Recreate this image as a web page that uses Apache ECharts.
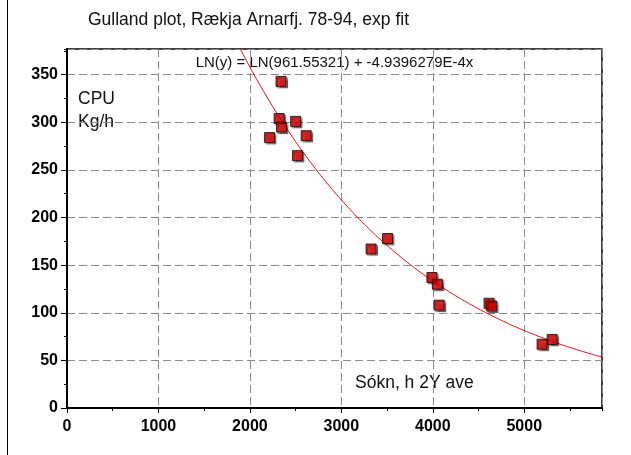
<!DOCTYPE html>
<html>
<head>
<meta charset="utf-8">
<script src="https://cdn.jsdelivr.net/npm/echarts@6/dist/echarts.min.js"></script>
<style>
html,body{margin:0;padding:0;background:#fff;}
#chart{width:631px;height:455px;}
</style>
</head>
<body>
<div id="chart"></div>
<script>
// Observed points (effort, CPU)
var effortX = [2340, 2320, 2345, 2500, 2215, 2615, 2520, 3325, 3505, 3990, 4050, 4070, 4615, 4645, 5195, 5305];
var cpuY    = [343, 304, 295, 301, 284, 286, 265, 167, 178, 137, 130, 108, 110, 107, 67, 72];
// Fit parameters as printed on the chart
var fitA = 961.55321;
var fitB = -4.9396279E-4;
var fitStart = 1850, fitEnd = 5850, fitStep = 25;
var xTicks = [0, 1000, 2000, 3000, 4000, 5000];
var yTicks = [0, 50, 100, 150, 200, 250, 300, 350];

var titleText = 'Gulland plot, Rækja Arnarfj. 78-94, exp fit';
var eqText = 'LN(y) = LN(961.55321) + -4.9396279E-4x';

var scatterData = effortX.map(function(x, i){ return [x, cpuY[i]]; });
var fitData = [];
for (var x = fitStart; x <= fitEnd; x += fitStep) {
  fitData.push([x, fitA * Math.exp(fitB * x)]);
}

var labFont = "'Liberation Sans',Arial,sans-serif";
var txtFont = "'Liberation Sans',Arial,sans-serif";
var gridLine = {show:true, lineStyle:{color:'#8a8a8a', type:[8,4], width:1}};

var chart = echarts.init(document.getElementById('chart'), null, {renderer:'canvas'});
chart.setOption({
  animation:false,
  backgroundColor:'#fff',
  grid:{left:67, right:29, top:49, bottom:47, show:true, borderColor:'#000', borderWidth:1.5, backgroundColor:'transparent'},
  xAxis:[{
    type:'value', min:0, max:5850, interval:1000,
    axisLine:{show:true, onZero:false, lineStyle:{color:'#000', width:2}},
    axisTick:{show:true, length:5, lineStyle:{color:'#000', width:1}},
    axisLabel:{show:true, margin:11, color:'#000', fontFamily:labFont, fontWeight:900, fontSize:16,
      showMaxLabel:false, formatter:function(v){ return xTicks.indexOf(v) >= 0 ? String(v) : ''; }},
    splitLine:gridLine
  },{
    type:'value', min:0, max:5850, interval:500, position:'bottom',
    axisLine:{show:false},
    axisTick:{show:true, length:3, lineStyle:{color:'#000', width:1}},
    axisLabel:{show:false}, splitLine:{show:false}
  }],
  yAxis:[{
    type:'value', min:0, max:377, interval:50,
    axisLine:{show:true, onZero:false, lineStyle:{color:'#000', width:2}},
    axisTick:{show:true, length:6, lineStyle:{color:'#000', width:1}},
    axisLabel:{show:true, margin:9, color:'#000', fontFamily:labFont, fontWeight:900, fontSize:16,
      showMaxLabel:false, formatter:function(v){ return yTicks.indexOf(v) >= 0 ? String(v) : ''; }},
    splitLine:gridLine
  },{
    type:'value', min:0, max:377, interval:25, position:'left',
    axisLine:{show:false},
    axisTick:{show:true, length:3, lineStyle:{color:'#000', width:1}},
    axisLabel:{show:false}, splitLine:{show:false}
  }],
  series:[{
    type:'line', data:fitData, showSymbol:false, symbol:'none', clip:true,
    lineStyle:{color:'#e01010', width:1}, z:2
  },{
    type:'scatter', data:scatterData, symbol:'rect', symbolSize:10,
    itemStyle:{color:'#dd0000', borderColor:'#1a0000', borderWidth:1,
      shadowColor:'rgba(0,0,0,0.55)', shadowOffsetX:1.5, shadowOffsetY:1.5, shadowBlur:1},
    z:3
  }],
  graphic:[
    {type:'line', shape:{x1:7.5, y1:0, x2:7.5, y2:455}, style:{stroke:'#000', lineWidth:1}},
    {type:'text', x:88, y:20, style:{text:titleText, font:'17.5px '+txtFont, fill:'#111', textVerticalAlign:'middle'}},
    {type:'text', x:334.5, y:63, style:{text:eqText, font:'15px '+txtFont, fill:'#111', textAlign:'center', textVerticalAlign:'middle'}},
    {type:'text', x:78, y:99.5, style:{text:'CPU', font:'17.5px '+txtFont, fill:'#111', textVerticalAlign:'middle'}},
    {type:'text', x:78, y:122.5, style:{text:'Kg/h', font:'17.5px '+txtFont, fill:'#111', textVerticalAlign:'middle'}},
    {type:'text', x:355, y:383.5, style:{text:'Sókn, h 2Y ave', font:'17.5px '+txtFont, fill:'#111', textVerticalAlign:'middle'}}
  ]
});
</script>
</body>
</html>
